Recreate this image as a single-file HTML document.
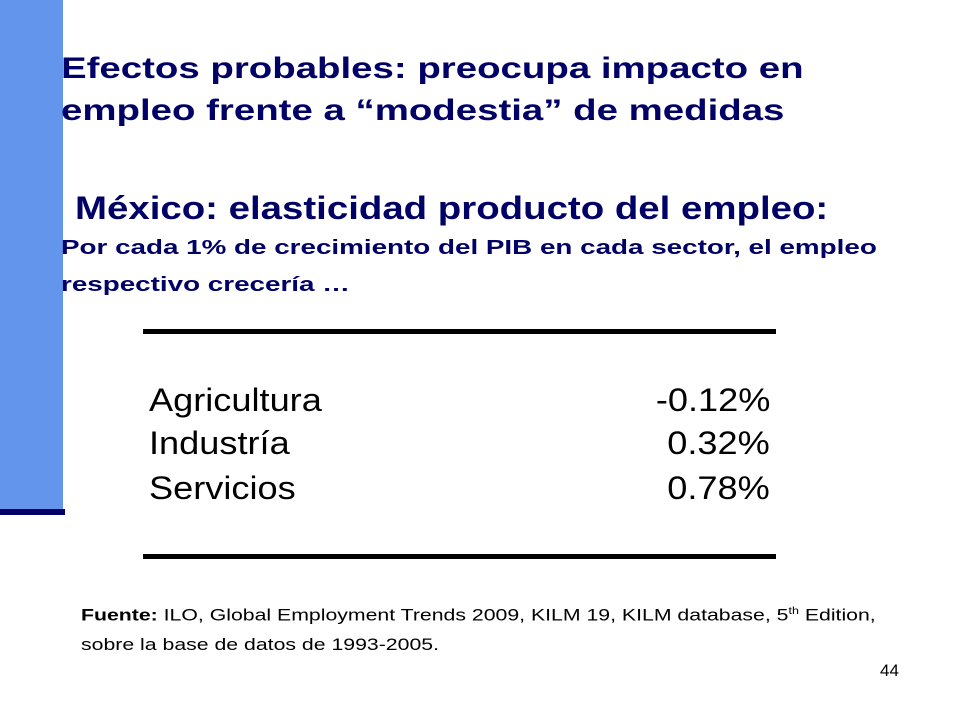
<!DOCTYPE html>
<html><head><meta charset="utf-8"><style>
body{margin:0;width:960px;height:720px;background:#fff;position:relative;overflow:hidden;font-family:"Liberation Sans",sans-serif}
.a{position:absolute;white-space:nowrap}
.t{color:#000066;font-weight:bold;transform-origin:left top}
.row{font-size:32px;color:#000;transform:scaleX(1.13)}
.l{transform-origin:left top}
.r{transform-origin:right top}
</style></head><body>
<div class="a" style="left:0;top:0;width:63px;height:510px;background:#6495ED"></div>
<div class="a" style="left:0;top:509px;width:65px;height:6px;background:#000066"></div>
<div class="a t" style="left:61px;top:48px;font-size:30px;line-height:42px;transform:scaleX(1.28)">Efectos probables: preocupa impacto en<br>empleo frente a “modestia” de medidas</div>
<div class="a t" style="left:75px;top:190px;font-size:32px;transform:scaleX(1.2)">México: elasticidad producto del empleo:</div>
<div class="a t" style="left:61px;top:230px;font-size:20px;line-height:37px;transform:scaleX(1.39)">Por cada 1% de crecimiento del PIB en cada sector, el empleo<br>respectivo crecería …</div>
<div class="a" style="left:143px;top:329px;width:633px;height:5px;background:#000"></div>
<div class="a" style="left:143px;top:554px;width:633px;height:5px;background:#000"></div>
<div class="a row l" style="left:149px;top:382px">Agricultura</div>
<div class="a row r" style="right:190px;top:382px">-0.12%</div>
<div class="a row l" style="left:149px;top:425px">Industría</div>
<div class="a row r" style="right:190px;top:425px">0.32%</div>
<div class="a row l" style="left:149px;top:470px">Servicios</div>
<div class="a row r" style="right:190px;top:470px">0.78%</div>
<div class="a l" style="left:81px;top:597px;font-size:17px;line-height:29px;color:#000;transform:scaleX(1.25)"><b>Fuente:</b> ILO, Global Employment Trends 2009, KILM 19, KILM database, 5<sup style="font-size:10px">th</sup> Edition,<br>sobre la base de datos de 1993-2005.</div>
<div class="a" style="left:880px;top:661px;font-size:17px;color:#000">44</div>
</body></html>
